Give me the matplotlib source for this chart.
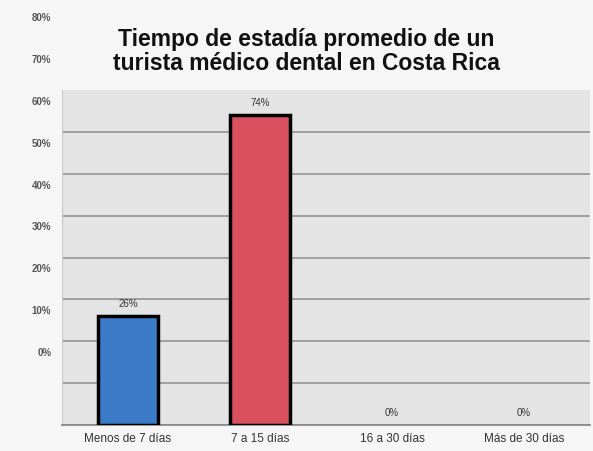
import matplotlib.pyplot as plt
import numpy as np

plt.rcParams['font.family'] = ['Liberation Sans', 'DejaVu Sans']

# datos
categorias = ['Menos de 7 días', '7 a 15 días', '16 a 30 días', 'Más de 30 días']
valores = [26, 74, 0, 0]
etiquetas_valor = ['26%', '74%', '0%', '0%']
colores = ['#3b7bc8', '#d9505e', '#3b7bc8', '#d9505e']
ticks_y = [0, 10, 20, 30, 40, 50, 60, 70, 80]
etiquetas_y = ['0%', '10%', '20%', '30%', '40%', '50%', '60%', '70%', '80%']

titulo = 'Tiempo de estadía promedio de un\nturista médico dental en Costa Rica'

fig = plt.figure(figsize=(5.93, 4.51), dpi=100)
fig.patch.set_facecolor('#f6f6f6')

# area de barras
ax = fig.add_axes([62 / 593, 26 / 451, 528 / 593, 335 / 451])
ax.set_facecolor('#e4e4e4')
x = np.arange(len(categorias))
grosor = [2.5 if v > 0 else 0 for v in valores]
barras = ax.bar(x, valores, width=0.45, color=colores,
                edgecolor='black', linewidth=grosor, zorder=3)
for b, txt in zip(barras, etiquetas_valor):
    ax.annotate(txt, (b.get_x() + b.get_width() / 2, b.get_height()),
                xytext=(0, 5), textcoords='offset points',
                ha='center', va='bottom', fontsize=7, color='#333333')

ax.set_xlim(-0.5, len(categorias) - 0.5)
ax.set_ylim(0, 80)
ax.set_yticks(ticks_y[:-1])
ax.yaxis.grid(True, color='#9a9a9a', linewidth=1.3, zorder=0)
ax.tick_params(axis='y', left=False, labelleft=False)
ax.set_xticks(x)
ax.set_xticklabels(categorias, fontsize=8.5, color='#333333')
ax.tick_params(axis='x', length=0, pad=6)
for s in ['top', 'right']:
    ax.spines[s].set_visible(False)
ax.spines['left'].set_color('#c8c8c8')
ax.spines['bottom'].set_color('#8a8a8a')
ax.spines['bottom'].set_linewidth(1.3)

# columna de porcentajes a la izquierda (desplazada como en el original)
ax_lab = fig.add_axes([54 / 593, 0, 0.001, 1])
ax_lab.set_ylim(-23.64, 84.06)
ax_lab.set_yticks(ticks_y)
ax_lab.set_yticklabels(etiquetas_y, fontsize=7, fontweight='bold', color='#555555')
ax_lab.tick_params(axis='y', length=0, pad=2)
ax_lab.set_xticks([])
for s in ax_lab.spines.values():
    s.set_visible(False)
ax_lab.patch.set_visible(False)

fig.text(0.517, 0.885, titulo, ha='center', va='center',
         fontsize=16.5, fontweight='bold', color='#111111', linespacing=1.05)

fig.savefig('out.png', dpi=100, facecolor=fig.get_facecolor())
